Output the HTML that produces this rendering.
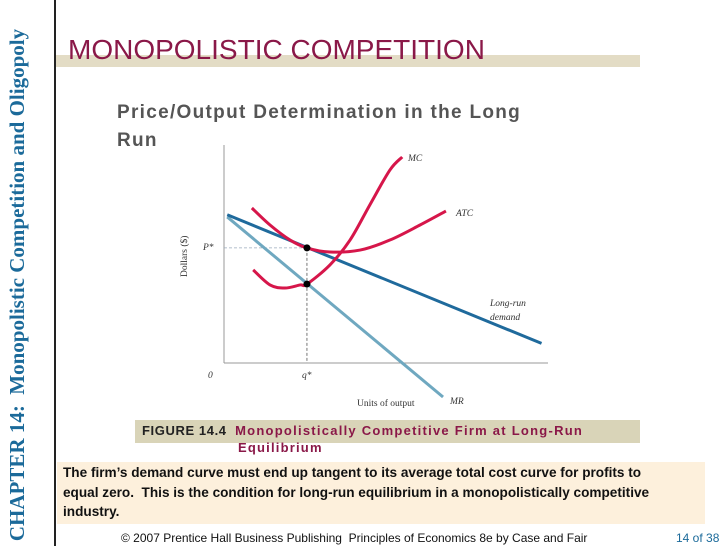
<!DOCTYPE html>
<html><head><meta charset="utf-8"><style>
body{margin:0;width:728px;height:546px;background:#fff;position:relative;overflow:hidden;font-family:"Liberation Sans",sans-serif}
.abs{position:absolute}
</style></head><body>
<div class="abs" style="left:-243px;top:272px;width:520px;height:26px;transform:rotate(-90deg);font-family:'Liberation Serif',serif;font-weight:bold;font-size:21px;color:#1b6a9a;text-align:center;line-height:26px;white-space:nowrap">CHAPTER 14:&nbsp; Monopolistic Competition and Oligopoly</div>
<div class="abs" style="left:54px;top:0;width:2px;height:546px;background:#222"></div>
<div class="abs" style="left:56px;top:55px;width:584px;height:12px;background:#e3dcc5"></div>
<div class="abs" style="left:68px;top:34px;font-size:28px;color:#8a1848;white-space:nowrap">MONOPOLISTIC COMPETITION</div>
<div class="abs" style="left:117px;top:99px;width:560px;font-size:19px;font-weight:bold;color:#555;letter-spacing:1.3px;line-height:28px;white-space:nowrap">Price/Output Determination in the Long<br>Run</div>

<svg class="abs" style="left:0;top:0" width="728" height="546">
<g id="g"></g>
</svg>

<div class="abs" style="left:135px;top:420px;width:505px;height:23px;background:#d9d4b8"></div>
<div class="abs" style="left:142px;top:423px;font-size:13px;font-weight:bold;letter-spacing:0.6px;white-space:nowrap;color:#222">FIGURE 14.4&nbsp; <span style="color:#8a1848;letter-spacing:1.25px">Monopolistically Competitive Firm at Long-Run</span></div>
<div class="abs" style="left:238px;top:440px;font-size:13px;font-weight:bold;letter-spacing:1.2px;color:#8a1848">Equilibrium</div>
<div class="abs" style="left:57px;top:462px;width:648px;height:62px;background:#fdf0dc"></div>
<div class="abs" style="left:63px;top:463px;width:612px;font-size:13.6px;font-weight:bold;line-height:19.5px;color:#111">The firm’s demand curve must end up tangent to its average total cost curve for profits to equal zero.&nbsp; This is the condition for long-run equilibrium in a monopolistically competitive industry.</div>
<div class="abs" style="left:121px;top:531px;font-size:12px;color:#111;white-space:nowrap">© 2007 Prentice Hall Business Publishing &nbsp;Principles of Economics 8e by Case and Fair</div>
<div class="abs" style="left:676px;top:531px;font-size:12px;color:#1b6a9a;white-space:nowrap">14 of 38</div>

<script>
const demandQ=[1,98], demandP=[68,9];
const mrQ=[1,67.6], mrP=[67,-15.6];
const mcQ=[9,14.2,18.8,23.5,25.6,32.7,38.9,45,51.2,55];
const mcP=[42.7,35.8,34.4,35.8,36.2,45,56.4,72.5,88.5,94.5];
const atcQ=[8.6,14.2,20.4,25.6,32.7,42,51.2,60.5,68.5];
const atcP=[71.1,63.3,56.4,52.8,50.9,51.8,56.4,63.3,69.7];
const eqQ=[25.6], eqP=[52.8], mcEqP=[36.2];
const X=q=>224+q*3.24, Y=p=>363-p*2.18;
const NS='http://www.w3.org/2000/svg';
const g=document.getElementById('g');
function mk(t,a){const e=document.createElementNS(NS,t);for(const k in a)e.setAttribute(k,a[k]);g.appendChild(e);return e;}
function smooth(qs,ps){const pts=qs.map((q,i)=>[X(q),Y(ps[i])]);let d='M'+pts[0];for(let i=0;i<pts.length-1;i++){const p0=pts[Math.max(0,i-1)],p1=pts[i],p2=pts[i+1],p3=pts[Math.min(pts.length-1,i+2)];d+=' C'+(p1[0]+(p2[0]-p0[0])/6)+','+(p1[1]+(p2[1]-p0[1])/6)+' '+(p2[0]-(p3[0]-p1[0])/6)+','+(p2[1]-(p3[1]-p1[1])/6)+' '+p2[0]+','+p2[1];}return d;}
let e;
e=mk('line',{x1:X(0),y1:Y(100),x2:X(0),y2:Y(0),stroke:'#999','stroke-width':1});

e=mk('line',{x1:X(0),y1:Y(0),x2:X(100),y2:Y(0),stroke:'#999','stroke-width':1});

e=mk('line',{x1:X(0),y1:Y(eqP[0]),x2:X(eqQ[0]),y2:Y(eqP[0]),stroke:'#9ab','stroke-width':0.8,'stroke-dasharray':'3,2'});

e=mk('line',{x1:X(eqQ[0]),y1:Y(eqP[0]),x2:X(eqQ[0]),y2:Y(0),stroke:'#555','stroke-width':0.8,'stroke-dasharray':'3,2'});

e=mk('line',{x1:X(mrQ[0]),y1:Y(mrP[0]),x2:X(mrQ[1]),y2:Y(mrP[1]),stroke:'#6fa8c0','stroke-width':3});

e=mk('line',{x1:X(demandQ[0]),y1:Y(demandP[0]),x2:X(demandQ[1]),y2:Y(demandP[1]),stroke:'#1f6a9c','stroke-width':3});

e=mk('path',{d:smooth(atcQ,atcP),fill:'none',stroke:'#d6164a','stroke-width':3});

e=mk('path',{d:smooth(mcQ,mcP),fill:'none',stroke:'#d6164a','stroke-width':3});

e=mk('circle',{cx:X(eqQ[0]),cy:Y(eqP[0]),r:3.5,fill:'#000'});

e=mk('circle',{cx:X(eqQ[0]),cy:Y(mcEqP[0]),r:3.5,fill:'#000'});

const labels=[['MC',408,161,'mc-label',1],['ATC',456,216,'atc-label',1],['Long-run',490,306,'demand-label-1',1],['demand',490,320,'demand-label-2',1],['MR',450,404,'mr-label',1],['P*',203,250,'p-star-label',1],['0',208,378,'origin-label',1],['q*',302,378,'q-star-label',1],['Units of output',357,406,'x-axis-title',0]];
for(const l of labels){e=mk('text',{x:l[1],y:l[2],'font-family':'Liberation Serif,serif','font-size':9.5,'font-style':l[4]?'italic':'normal',fill:'#333'});e.textContent=l[0];
}
e=mk('text',{x:0,y:0,transform:'translate(187,277) rotate(-90)','font-family':'Liberation Serif,serif','font-size':9.5,fill:'#333'});e.textContent='Dollars ($)';

</script>
</body></html>
